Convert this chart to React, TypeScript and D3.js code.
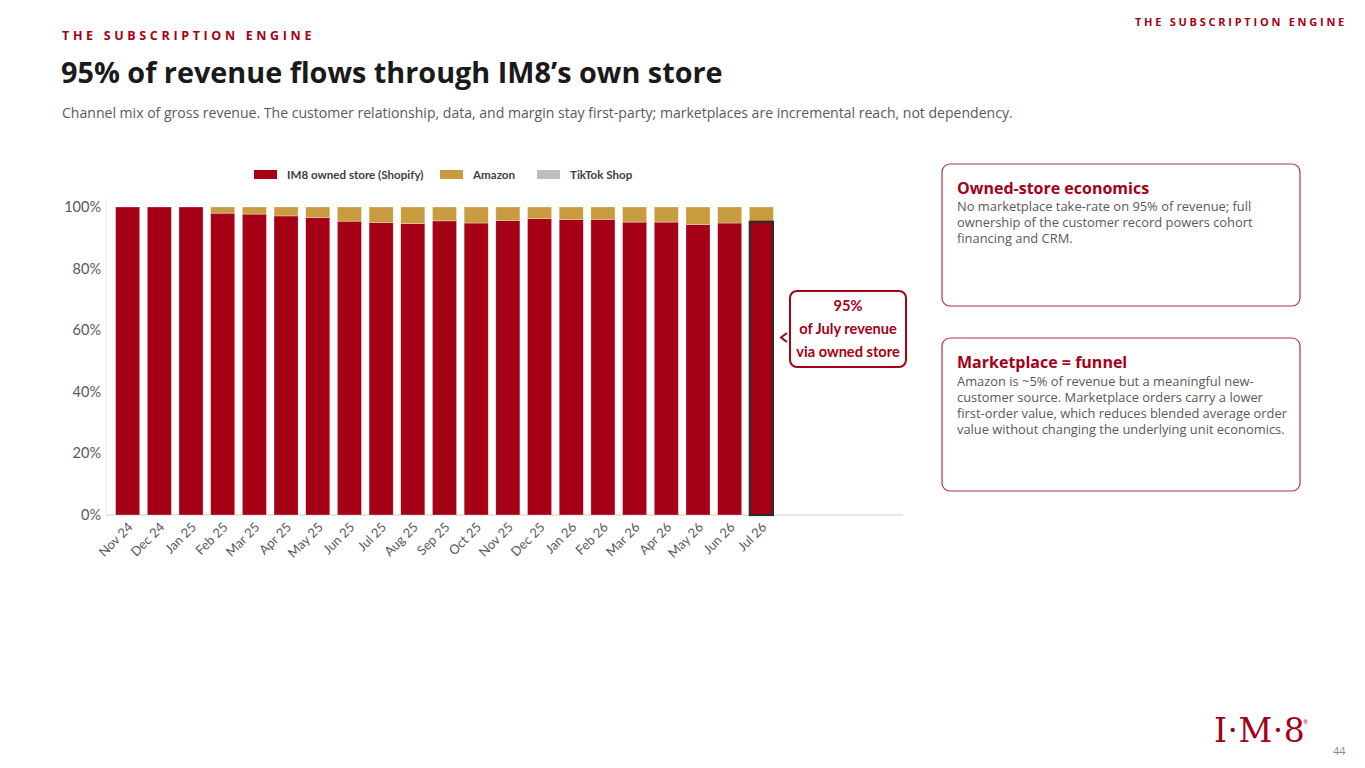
import React from 'react';
import * as d3 from 'd3';

// Channel mix of gross revenue, % per month
const months = [
  'Nov 24', 'Dec 24', 'Jan 25', 'Feb 25', 'Mar 25', 'Apr 25', 'May 25',
  'Jun 25', 'Jul 25', 'Aug 25', 'Sep 25', 'Oct 25', 'Nov 25', 'Dec 25',
  'Jan 26', 'Feb 26', 'Mar 26', 'Apr 26', 'May 26', 'Jun 26', 'Jul 26',
];
const ownedStore = [
  100, 100, 100, 98.0, 97.7, 97.1, 96.6, 95.4, 95.0, 94.6, 95.5,
  94.8, 95.6, 96.2, 95.9, 96.0, 95.1, 95.1, 94.3, 94.8, 95.2,
];
const amazon = [
  0, 0, 0, 2.0, 2.3, 2.9, 3.4, 4.6, 5.0, 5.4, 4.5,
  5.2, 4.4, 3.8, 4.1, 4.0, 4.9, 4.9, 5.7, 5.2, 4.8,
];
const tiktok = [
  0, 0, 0, 0, 0, 0, 0, 0, 0, 0, 0,
  0, 0, 0, 0, 0, 0, 0, 0, 0, 0,
];
const seriesNames = ['IM8 owned store (Shopify)', 'Amazon', 'TikTok Shop'];
const seriesColors = ['#A50016', '#C89B3F', '#BDBDBD'];
const yTicks = [0, 20, 40, 60, 80, 100];

const ownedBody = [
  'No marketplace take-rate on 95% of revenue; full',
  'ownership of the customer record powers cohort',
  'financing and CRM.',
];
const funnelBody = [
  'Amazon is ~5% of revenue but a meaningful new-',
  'customer source. Marketplace orders carry a lower',
  'first-order value, which reduces blended average order',
  'value without changing the underlying unit economics.',
];

const RED = '#A50016';
const SLIDE_FONT = '"Open Sans", "Noto Sans", sans-serif';
const CHART_FONT = 'Lato, "Open Sans", sans-serif';

const App: React.FC = () => {
  const width = 1365;
  const height = 768;

  const x = d3.scaleBand<string>().domain(months).range([108, 781]).padding(0.24);
  const y = d3.scaleLinear().domain([0, 100]).range([515, 207]);

  const rows = months.map((m, i) => ({ month: m, owned: ownedStore[i], amazon: amazon[i], tiktok: tiktok[i] }));
  const stack = d3.stack<any>().keys(['owned', 'amazon', 'tiktok'])(rows);
  const last = months[months.length - 1];

  const legendX = [254, 440, 537];

  return (
    <svg width={width} height={height} style={{ position: 'absolute', left: 0, top: 0, background: '#fff' }}>
      {/* headers */}
      <text x={62} y={40} fill={RED} fontFamily={SLIDE_FONT} fontWeight={700} fontSize={12.5} letterSpacing={3.65}>
        THE SUBSCRIPTION ENGINE
      </text>
      <text x={1347} y={26} textAnchor="end" fill={RED} fontFamily={SLIDE_FONT} fontWeight={700} fontSize={11} letterSpacing={2.75}>
        THE SUBSCRIPTION ENGINE
      </text>
      <text x={61} y={83} fill="#1a1a1a" fontFamily={SLIDE_FONT} fontWeight={700} fontSize={28.8}>
        95% of revenue flows through IM8’s own store
      </text>
      <text x={62} y={118} fill="#595959" fontFamily={SLIDE_FONT} fontSize={14.05}>
        Channel mix of gross revenue. The customer relationship, data, and margin stay first-party; marketplaces are incremental reach, not dependency.
      </text>

      {/* legend */}
      <g fontFamily={CHART_FONT} fontSize={11.6} fontWeight={700} fill="#404040">
        {seriesNames.map((s, i) => (
          <g key={s} transform={`translate(${legendX[i]},170)`}>
            <rect width={23} height={9} fill={seriesColors[i]} />
            <text x={33} y={9}>{s}</text>
          </g>
        ))}
      </g>

      {/* axes */}
      <line x1={106} x2={106} y1={y(100) - 8} y2={y(0)} stroke="#ececec" />
      <line x1={106} x2={903} y1={y(0)} y2={y(0)} stroke="#dcdcdc" strokeWidth={1.5} />
      <g fontFamily={CHART_FONT} fontSize={14.5} fill="#595959">
        {yTicks.map((t) => (
          <text key={t} x={101} y={y(t) + 5} textAnchor="end">{t}%</text>
        ))}
      </g>

      {/* stacked bars */}
      {stack.map((layer, li) => (
        <g key={li} fill={seriesColors[li]}>
          {layer.map((d, i) => {
            const h = y(d[0]) - y(d[1]);
            if (h <= 0) return null;
            return (
              <rect
                key={months[i]}
                x={x(months[i])}
                y={y(d[1])}
                width={x.bandwidth()}
                height={h}
                stroke="#ffffff"
                strokeOpacity={0.5}
                strokeWidth={0.6}
              />
            );
          })}
        </g>
      ))}

      {/* highlight latest month */}
      <rect
        x={(x(last) as number) + 0.5}
        y={y(ownedStore[ownedStore.length - 1])}
        width={x.bandwidth() - 1}
        height={y(0) - y(ownedStore[ownedStore.length - 1])}
        fill="none"
        stroke="#2b2b2b"
        strokeWidth={2.2}
      />

      {/* x labels */}
      <g fontFamily={CHART_FONT} fontSize={13} fill="#595959">
        {months.map((m) => {
          const cx = (x(m) as number) + x.bandwidth() / 2 + 6;
          return (
            <text key={m} transform={`translate(${cx},${y(0) + 13}) rotate(-45)`} textAnchor="end">
              {m}
            </text>
          );
        })}
      </g>

      {/* callout */}
      <path d="M787,333 L781,337.5 L787,342" fill="none" stroke={RED} strokeWidth={2} />
      <rect x={790} y={291} width={116} height={76} rx={7} fill="#fff" stroke={RED} strokeWidth={2} />
      <g fontFamily={CHART_FONT} fontWeight={700} fontSize={14.6} fill={RED} textAnchor="middle">
        <text x={848} y={311}>95%</text>
        <text x={848} y={334}>of July revenue</text>
        <text x={848} y={357}>via owned store</text>
      </g>

      {/* right panels */}
      <rect x={942} y={164} width={358} height={142} rx={8} fill="none" stroke="#B0324A" strokeWidth={1.2} />
      <text x={957} y={194} fill={RED} fontFamily={SLIDE_FONT} fontWeight={700} fontSize={16}>Owned-store economics</text>
      <g fontFamily={SLIDE_FONT} fontSize={12.9} fill="#595959">
        {ownedBody.map((l, i) => (
          <text key={i} x={957} y={211 + i * 16}>{l}</text>
        ))}
      </g>

      <rect x={942} y={338} width={358} height={153} rx={8} fill="none" stroke="#B0324A" strokeWidth={1.2} />
      <text x={957} y={368} fill={RED} fontFamily={SLIDE_FONT} fontWeight={700} fontSize={16}>Marketplace = funnel</text>
      <g fontFamily={SLIDE_FONT} fontSize={12.9} fill="#595959">
        {funnelBody.map((l, i) => (
          <text key={i} x={957} y={386 + i * 16}>{l}</text>
        ))}
      </g>

      {/* logo + page number */}
      <text x={1214} y={742} fill={RED} fontFamily='"DejaVu Serif", "Liberation Serif", serif' fontSize={33} letterSpacing={0.5}>
        I·M·8
      </text>
      <text x={1303} y={724} fill={RED} fontFamily={SLIDE_FONT} fontSize={6}>®</text>
      <text x={1333} y={755} fill="#8c8c8c" fontFamily={SLIDE_FONT} fontSize={11}>44</text>
    </svg>
  );
};

export default App;
